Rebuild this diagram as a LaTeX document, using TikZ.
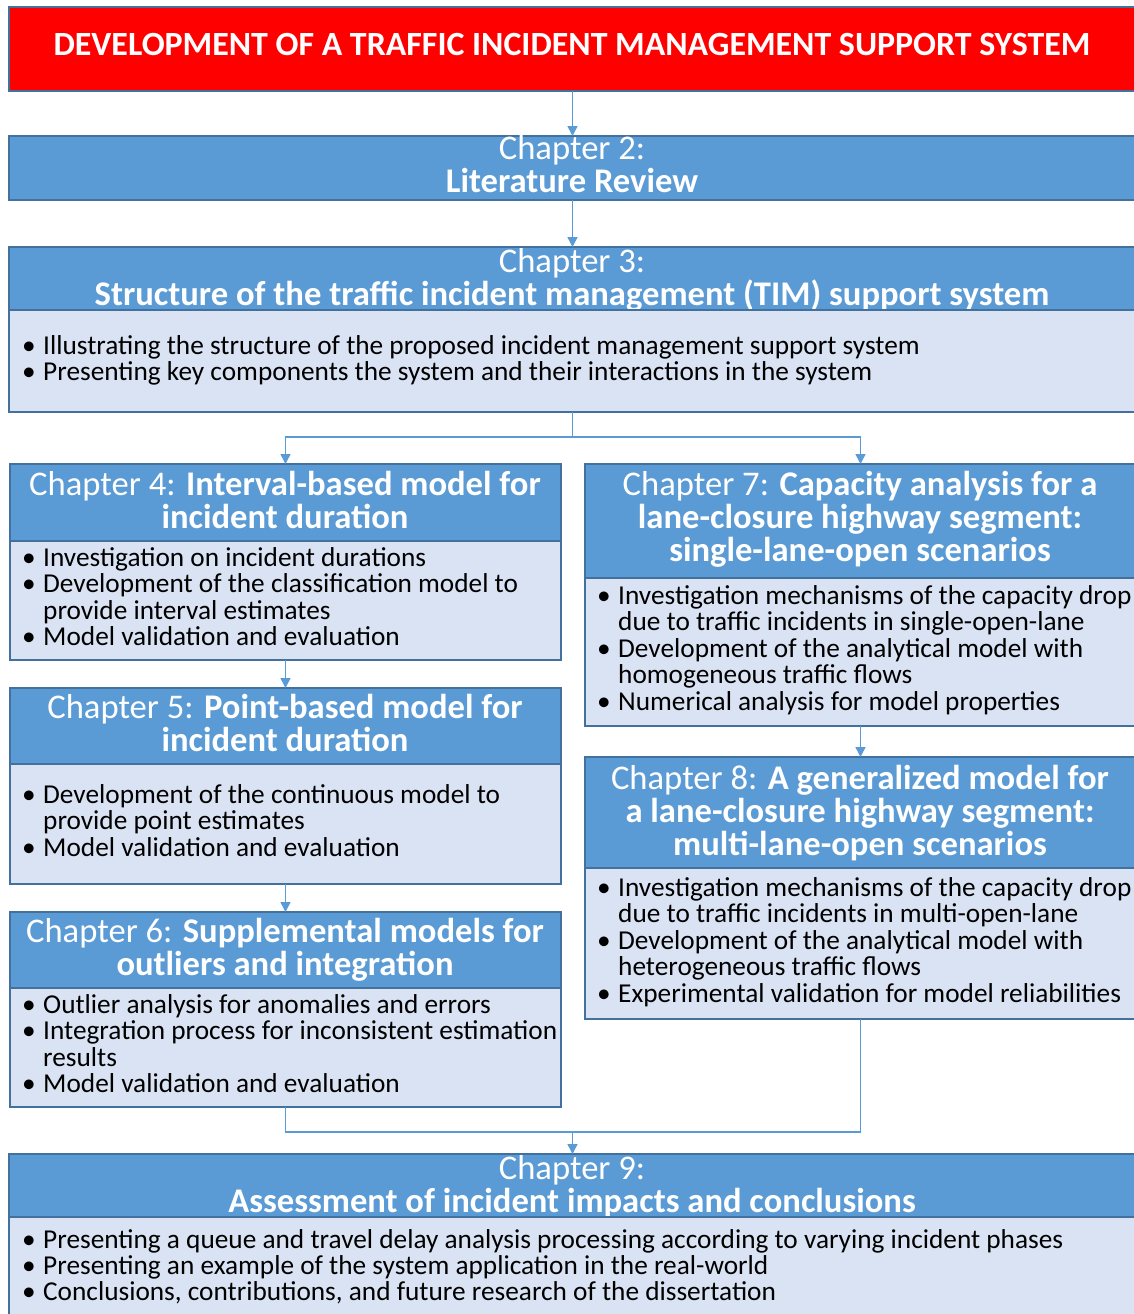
\documentclass[tikz,border=0pt]{standalone}
\usepackage{fontspec}
\setmainfont{Carlito}
\usetikzlibrary{arrows.meta}
\definecolor{hdblue}{HTML}{5B9BD5}
\definecolor{bdblue}{HTML}{DAE3F3}
\definecolor{edgeblue}{HTML}{41719C}
\definecolor{titlered}{HTML}{FF0000}
% one header line, centred on its x, sitting on baseline y
\newcommand\hdln[4]{\node[hdtxt] (#1) at (#2,#3) {#4};}
% one body line, starting at x, sitting on baseline y
\newcommand\bdln[4]{\node[bdtxt] (#1) at (#2,#3) {#4};}
\newcommand\bul{\makebox[21pt][l]{•}}
\begin{document}
\begin{tikzpicture}[x=1pt,y=-1pt,
  panel/.style={draw=edgeblue,line width=1.3pt,inner sep=0pt,outer sep=0pt,anchor=north west},
  head/.style={panel,fill=hdblue},
  body/.style={panel,fill=bdblue},
  redbox/.style={panel,fill=titlered},
  hdtxt/.style={text=white,anchor=base,inner sep=0pt,font=\fontsize{34.6}{40}\selectfont},
  bdtxt/.style={text=black,anchor=base west,inner sep=0pt,font=\fontsize{27.3}{32}\selectfont},
  arr/.style={draw=hdblue,line width=1.5pt,-{Triangle[width=10pt,length=10pt]}},
  link/.style={draw=hdblue,line width=1.5pt}]
\useasboundingbox (0,0) rectangle (1133,1314);
\fill[white] (0,0) rectangle (1133,1314);

% title banner
\node[redbox,minimum width=1127pt,minimum height=84pt] (title) at (9,7) {};
\node[text=white,anchor=base,inner sep=0pt,font=\fontsize{33.9}{40}\selectfont\bfseries] (ttl) at (572,56)
  {DEVELOPMENT OF A TRAFFIC INCIDENT MANAGEMENT SUPPORT SYSTEM};

% chapter 2
\node[head,minimum width=1127pt,minimum height=64pt] (ch2) at (9,136) {};
\hdln{h2a}{572}{159}{Chapter 2:}
\hdln{h2b}{572}{192}{\textbf{Literature Review}}

% chapter 3
\node[head,minimum width=1127pt,minimum height=63pt] (ch3h) at (9,247) {};
\hdln{h3a}{572}{272}{Chapter 3:}
\hdln{h3b}{572}{305}{\textbf{Structure of the traffic incident management (TIM) support system}}
\node[body,minimum width=1127pt,minimum height=102pt] (ch3b) at (9,310) {};
\bdln{b3a}{22}{354}{\bul Illustrating the structure of the proposed incident management support system}
\bdln{b3b}{22}{380}{\bul Presenting key components the system and their interactions in the system}

% chapter 4
\node[head,minimum width=551pt,minimum height=77pt] (ch4h) at (10,464) {};
\hdln{h4a}{285}{495}{Chapter 4: \textbf{Interval-based model for}}
\hdln{h4b}{285}{528}{\textbf{incident duration}}
\node[body,minimum width=551pt,minimum height=119pt] (ch4b) at (10,541) {};
\bdln{b4a}{22}{566}{\bul Investigation on incident durations}
\bdln{b4b}{22}{592}{\bul Development of the classification model to}
\bdln{b4c}{43}{619}{provide interval estimates}
\bdln{b4d}{22}{645}{\bul Model validation and evaluation}

% chapter 5
\node[head,minimum width=551pt,minimum height=76pt] (ch5h) at (10,688) {};
\hdln{h5a}{285}{718}{Chapter 5: \textbf{Point-based model for}}
\hdln{h5b}{285}{751}{\textbf{incident duration}}
\node[body,minimum width=551pt,minimum height=120pt] (ch5b) at (10,764) {};
\bdln{b5a}{22}{803}{\bul Development of the continuous model to}
\bdln{b5b}{43}{829}{provide point estimates}
\bdln{b5c}{22}{856}{\bul Model validation and evaluation}

% chapter 6
\node[head,minimum width=551pt,minimum height=76pt] (ch6h) at (10,912) {};
\hdln{h6a}{285}{942}{Chapter 6: \textbf{Supplemental models for}}
\hdln{h6b}{285}{975}{\textbf{outliers and integration}}
\node[body,minimum width=551pt,minimum height=119pt] (ch6b) at (10,988) {};
\bdln{b6a}{22}{1013}{\bul Outlier analysis for anomalies and errors}
\bdln{b6b}{22}{1039}{\bul Integration process for inconsistent estimation}
\bdln{b6c}{43}{1066}{results}
\bdln{b6d}{22}{1092}{\bul Model validation and evaluation}

% chapter 7
\node[head,minimum width=551pt,minimum height=114pt] (ch7h) at (585,464) {};
\hdln{h7a}{860}{495}{Chapter 7: \textbf{Capacity analysis for a}}
\hdln{h7b}{860}{528}{\textbf{lane-closure highway segment:}}
\hdln{h7c}{860}{561}{\textbf{single-lane-open scenarios}}
\node[body,minimum width=551pt,minimum height=148pt] (ch7b) at (585,578) {};
\bdln{b7a}{597}{604}{\bul Investigation mechanisms of the capacity drop}
\bdln{b7b}{618}{630}{due to traffic incidents in single-open-lane}
\bdln{b7c}{597}{657}{\bul Development of the analytical model with}
\bdln{b7d}{618}{683}{homogeneous traffic flows}
\bdln{b7e}{597}{710}{\bul Numerical analysis for model properties}

% chapter 8
\node[head,minimum width=551pt,minimum height=111pt] (ch8h) at (585,757) {};
\hdln{h8a}{860}{789}{Chapter 8: \textbf{A generalized model for}}
\hdln{h8b}{860}{822}{\textbf{a lane-closure highway segment:}}
\hdln{h8c}{860}{855}{\textbf{multi-lane-open scenarios}}
\node[body,minimum width=551pt,minimum height=151pt] (ch8b) at (585,868) {};
\bdln{b8a}{597}{896}{\bul Investigation mechanisms of the capacity drop}
\bdln{b8b}{618}{922}{due to traffic incidents in multi-open-lane}
\bdln{b8c}{597}{949}{\bul Development of the analytical model with}
\bdln{b8d}{618}{975}{heterogeneous traffic flows}
\bdln{b8e}{597}{1002}{\bul Experimental validation for model reliabilities}

% chapter 9
\node[head,minimum width=1127pt,minimum height=63pt] (ch9h) at (9,1154) {};
\hdln{h9a}{572}{1179}{Chapter 9:}
\hdln{h9b}{572}{1212}{\textbf{Assessment of incident impacts and conclusions}}
\node[body,minimum width=1127pt,minimum height=103pt] (ch9b) at (9,1217) {};
\bdln{b9a}{22}{1248}{\bul Presenting a queue and travel delay analysis processing according to varying incident phases}
\bdln{b9b}{22}{1274}{\bul Presenting an example of the system application in the real-world}
\bdln{b9c}{22}{1300}{\bul Conclusions, contributions, and future research of the dissertation}

% connectors
\draw[arr] (title.south) -- (ch2.north);
\draw[arr] (ch2.south) -- (ch3h.north);
\coordinate (split) at (572.5,437);
\draw[link] (ch3b.south) -- (split);
\draw[arr] (split) -| (ch4h.north);
\draw[arr] (split) -| (ch7h.north);
\draw[arr] (ch4b.south) -- (ch5h.north);
\draw[arr] (ch5b.south) -- (ch6h.north);
\draw[arr] (ch7b.south) -- (ch8h.north);
\coordinate (join) at (572.5,1132);
\draw[link] (ch6b.south) |- (join);
\draw[link] (ch8b.south) |- (join);
\draw[arr] (join) -- (ch9h.north);
\end{tikzpicture}
\end{document}
